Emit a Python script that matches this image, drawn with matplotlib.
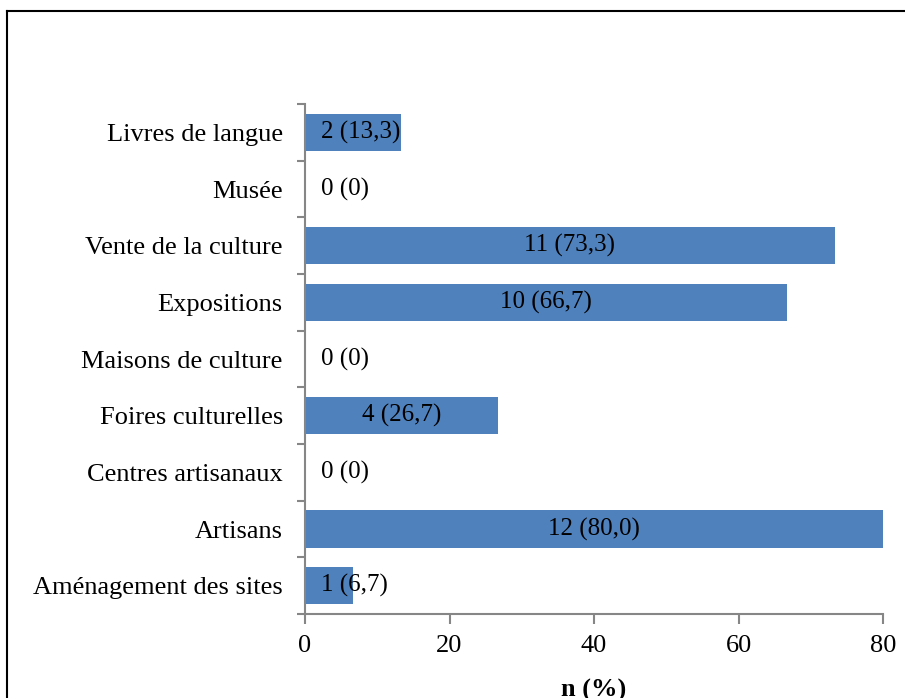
import matplotlib
matplotlib.use("Agg")
import matplotlib.pyplot as plt
from matplotlib.lines import Line2D
from matplotlib.ticker import FixedLocator

categories = ["Aménagement des sites", "Artisans", "Centres artisanaux",
              "Foires culturelles", "Maisons de culture", "Expositions",
              "Vente de la culture", "Musée", "Livres de langue"]
counts = [1, 12, 0, 4, 0, 10, 11, 0, 2]
percents = [6.7, 80.0, 0, 26.7, 0, 66.7, 73.3, 0, 13.3]
labels = ["1 (6,7)", "12 (80,0)", "0 (0)", "4 (26,7)", "0 (0)",
          "10 (66,7)", "11 (73,3)", "0 (0)", "2 (13,3)"]
xticks = [0, 20, 40, 60, 80]

plt.rcParams['font.family'] = ['Liberation Serif', 'DejaVu Serif']

fig = plt.figure(figsize=(9.05, 6.98), dpi=100)
ax = fig.add_axes([305/905, 84/698, (883-305)/905, (614-104)/698])

ypos = list(range(len(categories)))
ax.barh(ypos, percents, height=0.66, color='#4F81BD')

for y, p, lab in zip(ypos, percents, labels):
    if p / 2 < 12:
        ax.text(2.2, y, lab, ha='left', va='center', fontsize=18, color='black')
    else:
        ax.text(p / 2, y, lab, ha='center', va='center', fontsize=18, color='black')

ax.set_xlim(0, 80)
ax.set_ylim(-0.5, len(categories) - 0.5)
ax.set_xticks(xticks)
ax.set_xticklabels([str(t) for t in xticks], fontsize=19)
ax.set_yticks(ypos)
ax.set_yticklabels(categories, fontsize=19)
ax.yaxis.set_minor_locator(FixedLocator([i - 0.5 for i in range(len(categories) + 1)]))
ax.tick_params(axis='y', which='major', length=0, pad=16)
ax.tick_params(axis='y', which='minor', length=6, width=1.5, color='#868686', direction='out')
ax.tick_params(axis='x', which='major', length=7, width=1.5, color='#868686', direction='out', pad=8)

for s in ['top', 'right']:
    ax.spines[s].set_visible(False)
for s in ['left', 'bottom']:
    ax.spines[s].set_color('#868686')
    ax.spines[s].set_linewidth(1.5)

ax.set_xlabel("n (%)", fontsize=19, fontweight='bold', labelpad=16)

bx = 6.5 / 905
by = 1 - 11 / 698
fig.add_artist(Line2D([bx, 1.05], [by, by], transform=fig.transFigure,
                      color='black', linewidth=1.5))
fig.add_artist(Line2D([bx, bx], [-0.05, by], transform=fig.transFigure,
                      color='black', linewidth=1.5))

fig.savefig("out.png", dpi=100)
